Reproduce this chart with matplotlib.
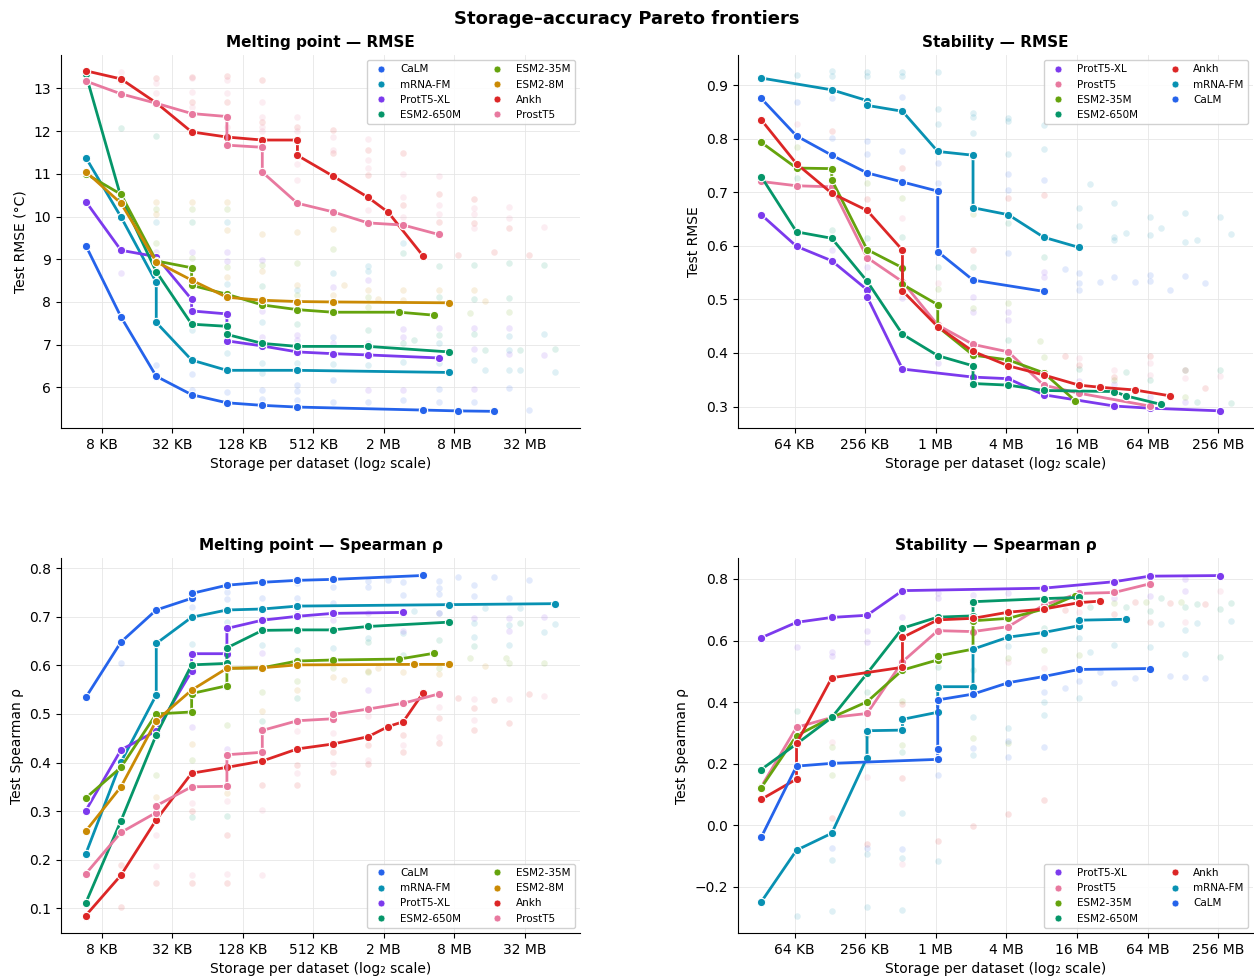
import matplotlib
matplotlib.use("Agg")
import matplotlib.pyplot as plt
from matplotlib.lines import Line2D

plt.rcParams['font.family'] = ['DejaVu Sans']

COLORS = {
    'CaLM': '#2563eb',
    'mRNA-FM': '#0891b2',
    'ProtT5-XL': '#7c3aed',
    'ESM2-650M': '#059669',
    'ESM2-35M': '#65a30d',
    'ESM2-8M': '#ca8a04',
    'Ankh': '#dc2626',
    'ProstT5': '#e8799f',
}

# storage in KB; frontier points per model
mp_rmse_x = {
    'CaLM': [5.86, 11.7, 23.4, 46.9, 93.8, 188, 375, 4420, 8860, 17930],
    'mRNA-FM': [5.86, 11.7, 23.4, 23.4, 46.9, 93.8, 375, 7440],
    'ProtT5-XL': [5.86, 11.7, 23.4, 46.9, 46.9, 93.8, 93.8, 188, 375, 750, 1500, 6000],
    'ESM2-650M': [5.86, 11.7, 23.4, 46.9, 93.8, 93.8, 188, 375, 1500, 7440],
    'ESM2-35M': [5.86, 11.7, 23.4, 46.9, 46.9, 93.8, 188, 375, 750, 2785, 5520],
    'ESM2-8M': [5.86, 11.7, 23.4, 46.9, 93.8, 188, 375, 750, 7440],
    'Ankh': [5.86, 11.7, 23.4, 46.9, 93.8, 188, 375, 375, 750, 1500, 2230, 4420],
    'ProstT5': [5.86, 11.7, 23.4, 46.9, 93.8, 93.8, 188, 188, 375, 750, 1500, 3000, 6000],
}
mp_rmse_y = {
    'CaLM': [9.32, 7.65, 6.26, 5.83, 5.64, 5.58, 5.54, 5.47, 5.45, 5.44],
    'mRNA-FM': [11.38, 9.99, 8.46, 7.52, 6.64, 6.40, 6.40, 6.35],
    'ProtT5-XL': [10.35, 9.21, 9.06, 8.06, 7.79, 7.72, 7.09, 6.97, 6.83, 6.79, 6.76, 6.69],
    'ESM2-650M': [13.33, 10.45, 8.71, 7.48, 7.43, 7.24, 7.03, 6.96, 6.96, 6.83],
    'ESM2-35M': [11.0, 10.52, 8.96, 8.80, 8.39, 8.18, 7.93, 7.82, 7.76, 7.76, 7.69],
    'ESM2-8M': [11.05, 10.31, 8.94, 8.51, 8.11, 8.04, 8.01, 8.00, 7.98],
    'Ankh': [13.41, 13.22, 12.66, 11.98, 11.86, 11.79, 11.79, 11.43, 10.95, 10.45, 10.10, 9.08],
    'ProstT5': [13.17, 12.87, 12.65, 12.41, 12.34, 11.67, 11.62, 11.04, 10.31, 10.11, 9.85, 9.80, 9.58],
}

st_rmse_x = {
    'ProtT5-XL': [33.3, 66.6, 133, 266, 266, 533, 2131, 4262, 8525, 34100, 68200, 272800],
    'ProstT5': [33.3, 66.6, 133, 266, 533, 1066, 2131, 4262, 8525, 17050, 68200],
    'ESM2-35M': [33.3, 66.6, 133, 133, 266, 533, 533, 1066, 1066, 2131, 4262, 8525, 15820],
    'ESM2-650M': [33.3, 66.6, 133, 266, 533, 1066, 2131, 2131, 4262, 8525, 34100, 42850, 85700],
    'Ankh': [33.3, 66.6, 133, 266, 533, 533, 1066, 2131, 4262, 8525, 17050, 25840, 51000, 101900],
    'mRNA-FM': [33.3, 133, 266, 266, 533, 1066, 2131, 2131, 4262, 8525, 17050],
    'CaLM': [33.3, 66.6, 133, 266, 533, 1066, 1066, 2131, 8525],
}
st_rmse_y = {
    'ProtT5-XL': [0.658, 0.599, 0.572, 0.518, 0.505, 0.370, 0.355, 0.352, 0.322, 0.301, 0.297, 0.292],
    'ProstT5': [0.720, 0.712, 0.710, 0.578, 0.533, 0.452, 0.416, 0.402, 0.340, 0.325, 0.301],
    'ESM2-35M': [0.793, 0.745, 0.744, 0.723, 0.593, 0.559, 0.528, 0.490, 0.449, 0.396, 0.387, 0.363, 0.311],
    'ESM2-650M': [0.729, 0.626, 0.614, 0.534, 0.435, 0.395, 0.376, 0.343, 0.340, 0.330, 0.328, 0.320, 0.304],
    'Ankh': [0.835, 0.753, 0.698, 0.666, 0.592, 0.516, 0.449, 0.403, 0.376, 0.359, 0.340, 0.336, 0.331, 0.320],
    'mRNA-FM': [0.913, 0.891, 0.871, 0.862, 0.851, 0.776, 0.769, 0.671, 0.658, 0.616, 0.597],
    'CaLM': [0.875, 0.805, 0.769, 0.736, 0.719, 0.702, 0.589, 0.536, 0.515],
}

mp_rho_x = {
    'CaLM': [5.86, 11.7, 23.4, 46.9, 46.9, 93.8, 188, 375, 750, 4420],
    'mRNA-FM': [5.86, 11.7, 23.4, 23.4, 46.9, 93.8, 188, 375, 7440, 59200],
    'ProtT5-XL': [5.86, 11.7, 23.4, 46.9, 46.9, 93.8, 93.8, 188, 375, 750, 3000],
    'ESM2-650M': [5.86, 11.7, 23.4, 46.9, 93.8, 93.8, 188, 375, 750, 1500, 7440],
    'ESM2-35M': [5.86, 11.7, 23.4, 46.9, 46.9, 93.8, 93.8, 188, 375, 750, 2785, 5520],
    'ESM2-8M': [5.86, 11.7, 23.4, 46.9, 93.8, 188, 375, 3709, 7440],
    'Ankh': [5.86, 11.7, 23.4, 46.9, 93.8, 188, 375, 750, 1500, 2230, 3000, 4420],
    'ProstT5': [5.86, 11.7, 23.4, 23.4, 46.9, 93.8, 93.8, 188, 188, 375, 750, 750, 1500, 3000, 6000],
}
mp_rho_y = {
    'CaLM': [0.534, 0.648, 0.714, 0.738, 0.748, 0.765, 0.771, 0.775, 0.777, 0.785],
    'mRNA-FM': [0.212, 0.401, 0.539, 0.645, 0.699, 0.714, 0.716, 0.722, 0.725, 0.727],
    'ProtT5-XL': [0.301, 0.426, 0.465, 0.588, 0.624, 0.624, 0.676, 0.693, 0.701, 0.707, 0.709],
    'ESM2-650M': [0.111, 0.280, 0.457, 0.601, 0.604, 0.636, 0.672, 0.673, 0.673, 0.680, 0.689],
    'ESM2-35M': [0.327, 0.390, 0.500, 0.504, 0.542, 0.558, 0.594, 0.595, 0.609, 0.611, 0.613, 0.625],
    'ESM2-8M': [0.259, 0.350, 0.486, 0.549, 0.594, 0.595, 0.601, 0.602, 0.602],
    'Ankh': [0.085, 0.168, 0.282, 0.378, 0.390, 0.403, 0.428, 0.438, 0.453, 0.474, 0.484, 0.543],
    'ProstT5': [0.171, 0.256, 0.297, 0.311, 0.350, 0.351, 0.416, 0.421, 0.466, 0.486, 0.490, 0.499, 0.510, 0.522, 0.541],
}

st_rho_x = {
    'ProtT5-XL': [33.3, 66.6, 133, 266, 533, 8525, 34100, 68200, 272800],
    'ProstT5': [33.3, 66.6, 133, 266, 533, 1066, 2131, 4262, 8525, 17050, 34100, 68200],
    'ESM2-35M': [33.3, 66.6, 133, 266, 533, 1066, 1066, 2131, 2131, 4262, 8525, 15820],
    'ESM2-650M': [33.3, 66.6, 133, 266, 533, 1066, 2131, 2131, 8525, 17050],
    'Ankh': [33.3, 66.6, 66.6, 133, 533, 533, 1066, 2131, 4262, 8525, 17050, 25840],
    'mRNA-FM': [33.3, 66.6, 133, 266, 266, 533, 533, 1066, 1066, 2131, 2131, 4262, 8525, 17050, 17050, 42850],
    'CaLM': [33.3, 66.6, 133, 1066, 1066, 1066, 2131, 4262, 8525, 17050, 68200],
}
st_rho_y = {
    'ProtT5-XL': [0.609, 0.659, 0.675, 0.682, 0.762, 0.770, 0.791, 0.809, 0.811],
    'ProstT5': [0.125, 0.318, 0.350, 0.363, 0.531, 0.632, 0.629, 0.645, 0.715, 0.753, 0.756, 0.784],
    'ESM2-35M': [0.122, 0.291, 0.350, 0.401, 0.504, 0.537, 0.550, 0.572, 0.664, 0.672, 0.702, 0.746],
    'ESM2-650M': [0.181, 0.264, 0.350, 0.493, 0.640, 0.676, 0.680, 0.726, 0.736, 0.740],
    'Ankh': [0.084, 0.150, 0.266, 0.479, 0.513, 0.610, 0.667, 0.672, 0.692, 0.702, 0.723, 0.728],
    'mRNA-FM': [-0.249, -0.081, -0.026, 0.220, 0.307, 0.309, 0.344, 0.367, 0.450, 0.450, 0.572, 0.611, 0.626, 0.648, 0.666, 0.669],
    'CaLM': [-0.039, 0.192, 0.201, 0.214, 0.247, 0.407, 0.426, 0.463, 0.483, 0.506, 0.509],
}

# all other (dominated) configurations, drawn faint: (storage KB, value, model)
mp_rmse_bg = [
    (11.7, 13.39, 'ProstT5'), (11.7, 13.16, 'Ankh'), (23.4, 13.25, 'Ankh'), (23.4, 13.12, 'ProstT5'),
    (23.4, 12.88, 'ProstT5'), (46.9, 13.27, 'Ankh'), (46.9, 13.23, 'ProstT5'), (46.9, 12.91, 'ProstT5'),
    (46.9, 12.69, 'Ankh'), (46.9, 12.57, 'ProstT5'), (93.8, 13.29, 'Ankh'), (93.8, 13.2, 'ProstT5'),
    (93.8, 12.88, 'ProstT5'), (93.8, 12.69, 'Ankh'), (93.8, 12.10, 'ProstT5'), (188, 13.2, 'Ankh'),
    (188, 12.69, 'ProstT5'), (188, 12.34, 'ProstT5'), (188, 12.22, 'Ankh'), (188, 12.10, 'ProstT5'),
    (188, 11.99, 'ProstT5'), (375, 12.34, 'ProstT5'), (375, 12.10, 'Ankh'), (375, 11.99, 'ProstT5'),
    (375, 11.24, 'ProstT5'), (375, 10.85, 'ProstT5'), (750, 12.02, 'Ankh'), (750, 11.87, 'ProstT5'),
    (750, 11.56, 'ProstT5'), (750, 11.48, 'Ankh'), (1500, 11.81, 'ProstT5'), (1500, 11.56, 'Ankh'),
    (1500, 11.32, 'ProstT5'), (1500, 11.13, 'ProstT5'), (1500, 10.97, 'Ankh'), (1500, 10.15, 'ProstT5'),
    (3000, 11.49, 'Ankh'), (3000, 10.99, 'ProstT5'), (3000, 10.46, 'ProstT5'), (3000, 10.27, 'Ankh'),
    (3000, 9.99, 'ProstT5'), (6000, 10.95, 'ProstT5'), (6000, 10.52, 'Ankh'), (6000, 10.27, 'ProstT5'),
    (6000, 10.07, 'ProstT5'), (6000, 9.88, 'Ankh'), (12000, 10.40, 'Ankh'), (12000, 10.19, 'ProstT5'),
    (12000, 10.07, 'ProstT5'), (12000, 9.84, 'Ankh'), (12000, 9.72, 'ProstT5'), (24000, 10.23, 'ProstT5'),
    (24000, 9.96, 'ProstT5'), (24000, 9.72, 'Ankh'), (48000, 9.76, 'ProstT5'), (8860, 9.11, 'Ankh'),
    (17930, 9.16, 'Ankh'), (35170, 9.11, 'Ankh'),
    (11.7, 12.06, 'ESM2-650M'), (11.7, 8.67, 'ProtT5-XL'), (23.4, 11.88, 'ESM2-650M'), (23.4, 10.35, 'ESM2-8M'),
    (23.4, 10.17, 'ESM2-35M'), (23.4, 10.07, 'ESM2-8M'), (23.4, 9.88, 'mRNA-FM'), (23.4, 9.39, 'ESM2-35M'),
    (23.4, 9.18, 'ProtT5-XL'), (23.4, 6.52, 'CaLM'), (46.9, 10.35, 'ESM2-8M'), (46.9, 10.17, 'ESM2-35M'),
    (46.9, 9.88, 'ESM2-650M'), (46.9, 9.18, 'ProtT5-XL'), (46.9, 9.04, 'ESM2-35M'), (46.9, 7.34, 'mRNA-FM'),
    (46.9, 6.31, 'CaLM'), (46.9, 5.95, 'CaLM'), (93.8, 10.35, 'ESM2-8M'), (93.8, 10.17, 'ESM2-35M'),
    (93.8, 9.88, 'mRNA-FM'), (93.8, 9.68, 'ESM2-8M'), (93.8, 9.16, 'ProtT5-XL'), (93.8, 8.96, 'ProtT5-XL'),
    (93.8, 8.82, 'ESM2-35M'), (93.8, 8.59, 'ESM2-8M'), (93.8, 8.43, 'mRNA-FM'), (93.8, 6.81, 'mRNA-FM'),
    (93.8, 5.90, 'CaLM'), (188, 9.60, 'ESM2-8M'), (188, 8.98, 'ProtT5-XL'), (188, 8.86, 'ESM2-35M'),
    (188, 8.73, 'ESM2-8M'), (188, 8.37, 'ESM2-650M'), (188, 7.79, 'ProtT5-XL'), (188, 7.54, 'mRNA-FM'),
    (188, 7.18, 'ProtT5-XL'), (188, 6.56, 'mRNA-FM'), (188, 6.33, 'mRNA-FM'), (188, 5.94, 'CaLM'),
    (188, 5.74, 'CaLM'), (375, 9.64, 'ESM2-8M'), (375, 8.92, 'ESM2-35M'), (375, 8.39, 'ESM2-8M'),
    (375, 8.28, 'mRNA-FM'), (375, 8.16, 'ESM2-35M'), (375, 7.48, 'ESM2-650M'), (375, 7.22, 'ProtT5-XL'),
    (375, 7.11, 'ProtT5-XL'), (375, 6.56, 'mRNA-FM'), (375, 6.05, 'CaLM'), (375, 5.92, 'CaLM'),
    (375, 5.70, 'CaLM'), (750, 9.71, 'ESM2-8M'), (750, 9.23, 'ESM2-35M'), (750, 8.68, 'mRNA-FM'),
    (750, 8.34, 'ProtT5-XL'), (750, 8.16, 'ESM2-8M'), (750, 7.18, 'CaLM'), (750, 7.03, 'ProtT5-XL'),
    (750, 6.54, 'mRNA-FM'), (750, 6.17, 'CaLM'), (750, 5.66, 'CaLM'), (938, 8.39, 'ESM2-8M'),
    (1500, 8.84, 'mRNA-FM'), (1500, 8.73, 'mRNA-FM'), (1500, 8.51, 'ProtT5-XL'), (1500, 8.28, 'ESM2-8M'),
    (1500, 8.12, 'ESM2-35M'), (1500, 7.89, 'ESM2-35M'), (1500, 7.34, 'ESM2-650M'), (1500, 7.03, 'ProtT5-XL'),
    (1500, 6.52, 'mRNA-FM'), (1500, 5.94, 'ProtT5-XL'), (1500, 5.66, 'CaLM'), (1835, 8.08, 'ESM2-8M'),
    (3000, 9.37, 'mRNA-FM'), (3000, 9.14, 'ESM2-650M'), (3000, 8.28, 'ESM2-8M'), (3000, 8.04, 'ESM2-8M'),
    (3000, 7.36, 'ProtT5-XL'), (3000, 7.18, 'ProtT5-XL'), (3000, 7.03, 'ESM2-650M'), (3000, 6.60, 'mRNA-FM'),
    (3000, 5.94, 'ProtT5-XL'), (3000, 5.70, 'CaLM'), (3709, 7.11, 'ESM2-650M'), (6000, 8.84, 'ESM2-650M'),
    (6000, 8.28, 'ESM2-8M'), (6000, 8.12, 'ESM2-650M'), (6000, 7.38, 'ProtT5-XL'), (6000, 7.22, 'ESM2-650M'),
    (6000, 7.03, 'mRNA-FM'), (6000, 6.56, 'mRNA-FM'), (6000, 5.97, 'CaLM'), (6000, 5.66, 'CaLM'),
    (11140, 7.73, 'ESM2-35M'), (12000, 8.86, 'ESM2-650M'), (12000, 8.29, 'ESM2-8M'), (12000, 8.06, 'ESM2-650M'),
    (12000, 7.38, 'ProtT5-XL'), (12000, 7.26, 'ESM2-650M'), (12000, 6.89, 'ProtT5-XL'), (12000, 6.64, 'mRNA-FM'),
    (12000, 5.97, 'ProtT5-XL'), (12000, 5.66, 'CaLM'), (14900, 8.03, 'ESM2-8M'), (14900, 6.87, 'ESM2-650M'),
    (14900, 6.40, 'mRNA-FM'), (24000, 8.92, 'ESM2-650M'), (24000, 8.10, 'ESM2-650M'), (24000, 7.77, 'ESM2-35M'),
    (24000, 7.38, 'ProtT5-XL'), (24000, 7.20, 'mRNA-FM'), (24000, 6.87, 'mRNA-FM'), (24000, 6.78, 'ProtT5-XL'),
    (24000, 6.40, 'mRNA-FM'), (24000, 5.99, 'CaLM'), (29600, 6.87, 'ESM2-650M'), (29600, 6.40, 'mRNA-FM'),
    (48000, 8.86, 'ESM2-650M'), (48000, 7.26, 'mRNA-FM'), (48000, 6.75, 'ProtT5-XL'), (35170, 5.48, 'CaLM'),
    (59200, 6.89, 'ESM2-650M'), (59200, 6.36, 'mRNA-FM'),
]

st_rmse_bg = [
    (66.6, 0.919, 'mRNA-FM'), (133, 0.927, 'mRNA-FM'), (133, 0.917, 'mRNA-FM'), (266, 0.925, 'mRNA-FM'),
    (266, 0.917, 'mRNA-FM'), (533, 0.925, 'mRNA-FM'), (533, 0.917, 'mRNA-FM'), (1066, 0.925, 'mRNA-FM'),
    (1066, 0.855, 'mRNA-FM'), (1066, 0.828, 'mRNA-FM'), (2131, 0.847, 'mRNA-FM'), (2131, 0.841, 'mRNA-FM'),
    (2131, 0.811, 'mRNA-FM'), (4262, 0.838, 'mRNA-FM'), (4262, 0.832, 'mRNA-FM'), (4262, 0.771, 'mRNA-FM'),
    (8525, 0.825, 'mRNA-FM'), (8525, 0.780, 'mRNA-FM'), (17050, 0.670, 'mRNA-FM'), (17050, 0.636, 'mRNA-FM'),
    (34100, 0.679, 'mRNA-FM'), (34100, 0.617, 'mRNA-FM'), (34100, 0.610, 'mRNA-FM'), (42850, 0.624, 'mRNA-FM'),
    (68200, 0.653, 'mRNA-FM'), (68200, 0.620, 'mRNA-FM'), (85700, 0.633, 'mRNA-FM'), (136400, 0.662, 'mRNA-FM'),
    (136400, 0.608, 'mRNA-FM'), (171500, 0.611, 'mRNA-FM'), (272800, 0.654, 'mRNA-FM'), (336000, 0.622, 'mRNA-FM'),
    (21080, 0.715, 'mRNA-FM'),
    (66.6, 0.869, 'CaLM'), (133, 0.876, 'CaLM'), (133, 0.802, 'CaLM'), (266, 0.796, 'CaLM'),
    (266, 0.771, 'CaLM'), (533, 0.877, 'CaLM'), (533, 0.776, 'CaLM'), (1066, 0.754, 'CaLM'),
    (1066, 0.717, 'CaLM'), (4262, 0.734, 'CaLM'), (4262, 0.704, 'CaLM'), (4262, 0.586, 'CaLM'),
    (8525, 0.723, 'CaLM'), (12860, 0.557, 'CaLM'), (17050, 0.549, 'CaLM'), (17050, 0.531, 'CaLM'),
    (17050, 0.518, 'CaLM'), (25840, 0.533, 'CaLM'), (34100, 0.542, 'CaLM'), (51000, 0.533, 'CaLM'),
    (68200, 0.546, 'CaLM'), (68200, 0.535, 'CaLM'), (101900, 0.518, 'CaLM'), (136400, 0.544, 'CaLM'),
    (204000, 0.530, 'CaLM'),
    (66.6, 0.827, 'ProstT5'), (133, 0.814, 'Ankh'), (266, 0.687, 'Ankh'), (533, 0.651, 'ProstT5'),
    (533, 0.745, 'Ankh'), (1066, 0.530, 'ProstT5'), (2131, 0.593, 'Ankh'), (4262, 0.689, 'Ankh'),
    (8525, 0.694, 'Ankh'), (12860, 0.395, 'Ankh'), (17050, 0.390, 'ProstT5'), (17050, 0.378, 'Ankh'),
    (34100, 0.368, 'ProstT5'), (34100, 0.356, 'Ankh'), (68200, 0.395, 'Ankh'), (68200, 0.381, 'ProstT5'),
    (68200, 0.359, 'ProstT5'), (136400, 0.368, 'Ankh'), (136400, 0.353, 'ProstT5'), (204000, 0.334, 'Ankh'),
    (272800, 0.357, 'ProstT5'),
    (133, 0.592, 'ProtT5-XL'), (266, 0.561, 'ProtT5-XL'), (533, 0.502, 'ProtT5-XL'), (1066, 0.381, 'ProtT5-XL'),
    (2131, 0.505, 'ProtT5-XL'), (2131, 0.477, 'ProtT5-XL'), (4262, 0.477, 'ProtT5-XL'), (4262, 0.462, 'ProtT5-XL'),
    (8525, 0.552, 'ProtT5-XL'), (8525, 0.542, 'ProtT5-XL'), (17050, 0.347, 'ProtT5-XL'), (34100, 0.343, 'ProtT5-XL'),
    (68200, 0.318, 'ProtT5-XL'), (136400, 0.309, 'ProtT5-XL'),
    (66.6, 0.784, 'ESM2-35M'), (66.6, 0.727, 'ESM2-650M'), (133, 0.629, 'ESM2-650M'), (266, 0.615, 'ESM2-650M'),
    (266, 0.717, 'ESM2-35M'), (533, 0.689, 'ESM2-35M'), (533, 0.617, 'ESM2-650M'), (1066, 0.561, 'ESM2-650M'),
    (1066, 0.519, 'ESM2-35M'), (2131, 0.659, 'ESM2-35M'), (2131, 0.561, 'ESM2-650M'), (2131, 0.483, 'ESM2-35M'),
    (4262, 0.643, 'ESM2-650M'), (4262, 0.493, 'ESM2-35M'), (4262, 0.425, 'ESM2-650M'), (7882, 0.422, 'ESM2-35M'),
    (8525, 0.580, 'ESM2-650M'), (8525, 0.393, 'ESM2-35M'), (17050, 0.371, 'ESM2-650M'), (34100, 0.350, 'ESM2-35M'),
    (68200, 0.350, 'ESM2-650M'), (136400, 0.369, 'ESM2-650M'), (136400, 0.318, 'ESM2-35M'), (171500, 0.309, 'ESM2-650M'),
    (272800, 0.368, 'ESM2-650M'), (336000, 0.306, 'ESM2-650M'), (42850, 0.365, 'ESM2-650M'),
]

mp_rho_bg = [
    (11.7, 0.604, 'CaLM'), (46.9, 0.721, 'CaLM'), (93.8, 0.751, 'CaLM'), (93.8, 0.737, 'CaLM'),
    (188, 0.738, 'CaLM'), (375, 0.769, 'CaLM'), (375, 0.738, 'CaLM'), (750, 0.762, 'CaLM'),
    (750, 0.728, 'CaLM'), (1500, 0.773, 'CaLM'), (1500, 0.762, 'CaLM'), (2230, 0.776, 'CaLM'),
    (3000, 0.771, 'CaLM'), (3000, 0.745, 'CaLM'), (6000, 0.774, 'CaLM'), (6000, 0.760, 'CaLM'),
    (6000, 0.746, 'CaLM'), (8860, 0.781, 'CaLM'), (12000, 0.766, 'CaLM'), (12000, 0.743, 'CaLM'),
    (17930, 0.781, 'CaLM'), (24000, 0.738, 'CaLM'), (35170, 0.775, 'CaLM'),
    (46.9, 0.644, 'mRNA-FM'), (93.8, 0.690, 'mRNA-FM'), (188, 0.642, 'mRNA-FM'), (375, 0.632, 'mRNA-FM'),
    (750, 0.635, 'mRNA-FM'), (1500, 0.656, 'mRNA-FM'), (3000, 0.666, 'mRNA-FM'), (3709, 0.712, 'mRNA-FM'),
    (6000, 0.707, 'mRNA-FM'), (12000, 0.687, 'mRNA-FM'), (12000, 0.659, 'mRNA-FM'), (14900, 0.718, 'mRNA-FM'),
    (29600, 0.718, 'mRNA-FM'), (48000, 0.668, 'mRNA-FM'), (59200, 0.685, 'mRNA-FM'), (24000, 0.683, 'mRNA-FM'),
    (24000, 0.642, 'mRNA-FM'),
    (46.9, 0.474, 'ProtT5-XL'), (93.8, 0.428, 'ProtT5-XL'), (188, 0.625, 'ProtT5-XL'), (375, 0.707, 'ProtT5-XL'),
    (750, 0.694, 'ProtT5-XL'), (1500, 0.707, 'ProtT5-XL'), (1500, 0.550, 'ProtT5-XL'), (3000, 0.670, 'ProtT5-XL'),
    (6000, 0.707, 'ProtT5-XL'), (12000, 0.697, 'ProtT5-XL'), (24000, 0.697, 'ProtT5-XL'), (48000, 0.700, 'ProtT5-XL'),
    (24000, 0.671, 'ProtT5-XL'),
    (23.4, 0.374, 'ESM2-35M'), (46.9, 0.405, 'ESM2-35M'), (93.8, 0.477, 'ESM2-35M'), (188, 0.546, 'ESM2-35M'),
    (188, 0.486, 'ESM2-650M'), (375, 0.532, 'ESM2-650M'), (375, 0.567, 'ESM2-35M'), (750, 0.594, 'ESM2-35M'),
    (1500, 0.649, 'ESM2-650M'), (1500, 0.587, 'ESM2-35M'), (3000, 0.622, 'ESM2-650M'), (6000, 0.652, 'ESM2-650M'),
    (6000, 0.594, 'ESM2-35M'), (11140, 0.615, 'ESM2-35M'), (12000, 0.639, 'ESM2-650M'), (22380, 0.615, 'ESM2-35M'),
    (24000, 0.604, 'ESM2-35M'), (29600, 0.687, 'ESM2-650M'), (48000, 0.604, 'ESM2-35M'), (46.9, 0.287, 'ESM2-650M'),
    (93.8, 0.289, 'ESM2-650M'),
    (23.4, 0.330, 'ESM2-8M'), (46.9, 0.438, 'ESM2-8M'), (93.8, 0.337, 'ESM2-8M'), (188, 0.505, 'ESM2-8M'),
    (375, 0.550, 'ESM2-8M'), (750, 0.577, 'ESM2-8M'), (938, 0.570, 'ESM2-8M'), (1500, 0.589, 'ESM2-8M'),
    (1835, 0.594, 'ESM2-8M'), (3000, 0.586, 'ESM2-8M'), (6000, 0.582, 'ESM2-8M'), (14900, 0.598, 'ESM2-8M'),
    (11.7, 0.189, 'Ankh'), (11.7, 0.103, 'Ankh'), (23.4, 0.251, 'ProstT5'), (23.4, 0.186, 'ProstT5'),
    (23.4, 0.151, 'Ankh'), (46.9, 0.316, 'ProstT5'), (46.9, 0.300, 'Ankh'), (46.9, 0.169, 'ProstT5'),
    (46.9, 0.151, 'Ankh'), (93.8, 0.320, 'ProstT5'), (93.8, 0.251, 'Ankh'), (93.8, 0.170, 'ProstT5'),
    (93.8, 0.151, 'Ankh'), (188, 0.354, 'Ankh'), (188, 0.302, 'ProstT5'), (188, 0.169, 'ProstT5'),
    (375, 0.464, 'ProstT5'), (375, 0.395, 'Ankh'), (375, 0.378, 'ProstT5'), (375, 0.354, 'Ankh'),
    (750, 0.460, 'ProstT5'), (750, 0.421, 'Ankh'), (750, 0.396, 'ProstT5'), (750, 0.380, 'Ankh'),
    (1500, 0.495, 'ProstT5'), (1500, 0.436, 'Ankh'), (1500, 0.405, 'ProstT5'), (1500, 0.396, 'Ankh'),
    (3000, 0.457, 'Ankh'), (3000, 0.436, 'ProstT5'), (3000, 0.421, 'Ankh'), (6000, 0.515, 'ProstT5'),
    (6000, 0.491, 'Ankh'), (6000, 0.453, 'ProstT5'), (6000, 0.440, 'Ankh'), (8860, 0.532, 'Ankh'),
    (12000, 0.531, 'ProstT5'), (12000, 0.512, 'Ankh'), (12000, 0.488, 'ProstT5'), (12000, 0.467, 'Ankh'),
    (17930, 0.529, 'Ankh'), (24000, 0.531, 'ProstT5'), (24000, 0.481, 'Ankh'), (35170, 0.541, 'Ankh'),
    (48000, 0.537, 'ProstT5'),
]

st_rho_bg = [
    (66.6, 0.580, 'ProtT5-XL'), (133, 0.564, 'ProtT5-XL'), (133, 0.551, 'ProtT5-XL'), (266, 0.631, 'ProtT5-XL'),
    (266, 0.594, 'ProtT5-XL'), (533, 0.675, 'ProtT5-XL'), (1066, 0.753, 'ProtT5-XL'), (1066, 0.737, 'ProtT5-XL'),
    (2131, 0.748, 'ProtT5-XL'), (4262, 0.753, 'ProtT5-XL'), (8525, 0.732, 'ProtT5-XL'), (17050, 0.721, 'ProtT5-XL'),
    (34100, 0.737, 'ProtT5-XL'), (68200, 0.743, 'ProtT5-XL'), (136400, 0.80, 'ProtT5-XL'), (136400, 0.762, 'ProtT5-XL'),
    (133, 0.271, 'ProstT5'), (133, 0.024, 'Ankh'), (266, -0.062, 'Ankh'), (266, 0.158, 'ProstT5'),
    (533, 0.393, 'Ankh'), (533, -0.127, 'ProstT5'), (533, 0.154, 'Ankh'), (1066, -0.052, 'Ankh'),
    (2131, -0.002, 'Ankh'), (4262, 0.529, 'ProstT5'), (4262, 0.038, 'Ankh'), (8525, 0.512, 'ProstT5'),
    (8525, 0.082, 'Ankh'), (12860, 0.699, 'Ankh'), (17050, 0.694, 'ProstT5'), (34100, 0.685, 'Ankh'),
    (51000, 0.724, 'Ankh'), (68200, 0.661, 'Ankh'), (101900, 0.721, 'Ankh'), (136400, 0.661, 'ProstT5'),
    (204000, 0.719, 'Ankh'), (272800, 0.762, 'ProstT5'),
    (66.6, 0.372, 'ESM2-650M'), (133, 0.255, 'ESM2-35M'), (133, 0.163, 'ESM2-35M'), (266, 0.434, 'ESM2-650M'),
    (266, 0.293, 'ESM2-35M'), (533, 0.260, 'ESM2-35M'), (533, 0.239, 'ESM2-650M'), (533, 0.405, 'ESM2-35M'),
    (1066, 0.515, 'ESM2-650M'), (2131, 0.284, 'ESM2-35M'), (2131, 0.504, 'ESM2-650M'), (4262, 0.542, 'ESM2-35M'),
    (4262, 0.266, 'ESM2-35M'), (8525, 0.640, 'ESM2-650M'), (8525, 0.569, 'ESM2-35M'), (17050, 0.553, 'ESM2-35M'),
    (21080, 0.708, 'ESM2-650M'), (34100, 0.721, 'ESM2-35M'), (42850, 0.708, 'ESM2-650M'), (63300, 0.726, 'ESM2-35M'),
    (68200, 0.696, 'ESM2-650M'), (85700, 0.737, 'ESM2-650M'), (127200, 0.726, 'ESM2-35M'), (136400, 0.708, 'ESM2-650M'),
    (171500, 0.719, 'ESM2-650M'), (272800, 0.702, 'ESM2-650M'), (336000, 0.721, 'ESM2-650M'), (272800, 0.545, 'ESM2-650M'),
    (66.6, -0.294, 'mRNA-FM'), (133, -0.278, 'mRNA-FM'), (266, -0.267, 'mRNA-FM'), (533, -0.274, 'mRNA-FM'),
    (133, -0.113, 'mRNA-FM'), (266, -0.095, 'mRNA-FM'), (533, -0.106, 'mRNA-FM'), (533, 0.041, 'mRNA-FM'),
    (1066, -0.117, 'mRNA-FM'), (2131, 0.353, 'mRNA-FM'), (2131, 0.228, 'mRNA-FM'), (4262, 0.315, 'mRNA-FM'),
    (4262, 0.583, 'mRNA-FM'), (8525, 0.358, 'mRNA-FM'), (8525, 0.401, 'mRNA-FM'), (17050, 0.412, 'mRNA-FM'),
    (17050, 0.607, 'mRNA-FM'), (21080, 0.564, 'mRNA-FM'), (34100, 0.585, 'mRNA-FM'), (68200, 0.580, 'mRNA-FM'),
    (85700, 0.654, 'mRNA-FM'), (136400, 0.634, 'mRNA-FM'), (136400, 0.555, 'mRNA-FM'), (171500, 0.656, 'mRNA-FM'),
    (336000, 0.663, 'mRNA-FM'),
    (133, -0.075, 'CaLM'), (266, -0.075, 'CaLM'), (533, -0.078, 'CaLM'), (1066, 0.163, 'CaLM'),
    (2131, 0.250, 'CaLM'), (4262, 0.273, 'CaLM'), (4262, 0.223, 'CaLM'), (8525, 0.434, 'CaLM'),
    (8525, 0.253, 'CaLM'), (12860, 0.447, 'CaLM'), (17050, 0.470, 'CaLM'), (25840, 0.497, 'CaLM'),
    (34100, 0.463, 'CaLM'), (51000, 0.477, 'CaLM'), (101900, 0.486, 'CaLM'), (136400, 0.483, 'CaLM'),
    (204000, 0.479, 'CaLM'),
]

MP_ORDER = ['CaLM', 'mRNA-FM', 'ProtT5-XL', 'ESM2-650M', 'ESM2-35M', 'ESM2-8M', 'Ankh', 'ProstT5']
ST_ORDER = ['ProtT5-XL', 'ProstT5', 'ESM2-35M', 'ESM2-650M', 'Ankh', 'mRNA-FM', 'CaLM']

MP_TICKS = [8, 32, 128, 512, 2048, 8192, 32768]
MP_TICKLABELS = ['8 KB', '32 KB', '128 KB', '512 KB', '2 MB', '8 MB', '32 MB']
ST_TICKS = [64, 256, 1024, 4096, 16384, 65536, 262144]
ST_TICKLABELS = ['64 KB', '256 KB', '1 MB', '4 MB', '16 MB', '64 MB', '256 MB']

fig = plt.figure(figsize=(12.54, 9.77), dpi=100)
W, H = 1254, 977


def rect(x0, y0, x1, y1):
    return [x0 / W, 1 - y1 / H, (x1 - x0) / W, (y1 - y0) / H]


panels = [
    dict(r=rect(61, 55, 580, 428), xs=mp_rmse_x, ys=mp_rmse_y, bg=mp_rmse_bg, order=MP_ORDER,
         title='Melting point — RMSE', ylabel='Test RMSE (°C)', ticks=MP_TICKS, tl=MP_TICKLABELS,
         xlim=(3.6, 96700), ylim=(5.05, 13.78), loc='upper right'),
    dict(r=rect(738, 55, 1253, 428), xs=st_rmse_x, ys=st_rmse_y, bg=st_rmse_bg, order=ST_ORDER,
         title='Stability — RMSE', ylabel='Test RMSE', ticks=ST_TICKS, tl=ST_TICKLABELS,
         xlim=(21.1, 520000), ylim=(0.26, 0.956), loc='upper right'),
    dict(r=rect(61, 558, 580, 933), xs=mp_rho_x, ys=mp_rho_y, bg=mp_rho_bg, order=MP_ORDER,
         title='Melting point — Spearman ρ', ylabel='Test Spearman ρ', ticks=MP_TICKS, tl=MP_TICKLABELS,
         xlim=(3.6, 96700), ylim=(0.049, 0.821), loc='lower right'),
    dict(r=rect(738, 558, 1253, 933), xs=st_rho_x, ys=st_rho_y, bg=st_rho_bg, order=ST_ORDER,
         title='Stability — Spearman ρ', ylabel='Test Spearman ρ', ticks=ST_TICKS, tl=ST_TICKLABELS,
         xlim=(21.1, 520000), ylim=(-0.350, 0.868), loc='lower right'),
]

for p in panels:
    ax = fig.add_axes(p['r'])
    ax.set_xscale('log', base=2)

    # faint cloud of all configurations
    for model in p['order']:
        pts = [(s, v) for s, v, m in p['bg'] if m == model]
        if pts:
            ax.scatter([s for s, _ in pts], [v for _, v in pts], s=22, color=COLORS[model],
                       alpha=0.13, linewidths=0, zorder=1)

    # Pareto frontiers
    for model in p['order']:
        ax.plot(p['xs'][model], p['ys'][model], color=COLORS[model], lw=2.0, marker='o',
                ms=6, mec='white', mew=0.8, zorder=3)

    ax.set_xlim(*p['xlim'])
    ax.set_ylim(*p['ylim'])
    ax.set_xticks(p['ticks'])
    ax.set_xticklabels(p['tl'])
    ax.minorticks_off()
    ax.tick_params(labelsize=10)
    ax.grid(True, color='#e6e6e6', lw=0.6, zorder=0)
    ax.set_axisbelow(True)
    for side in ['top', 'right']:
        ax.spines[side].set_visible(False)
    ax.set_title(p['title'], fontsize=11, fontweight='bold')
    ax.set_xlabel('Storage per dataset (log₂ scale)', fontsize=10)
    ax.set_ylabel(p['ylabel'], fontsize=10)

    handles = [Line2D([], [], ls='none', marker='o', ms=5, color=COLORS[m], mec='white', mew=0.5)
               for m in p['order']]
    ax.legend(handles, p['order'], loc=p['loc'], ncol=2, fontsize=7.5, frameon=True,
              framealpha=0.9, edgecolor='#cccccc', handletextpad=0.8, columnspacing=2.5)

fig.suptitle('Storage–accuracy Pareto frontiers', fontsize=13, fontweight='bold', y=0.99)

fig.savefig('out.png', dpi=100)
